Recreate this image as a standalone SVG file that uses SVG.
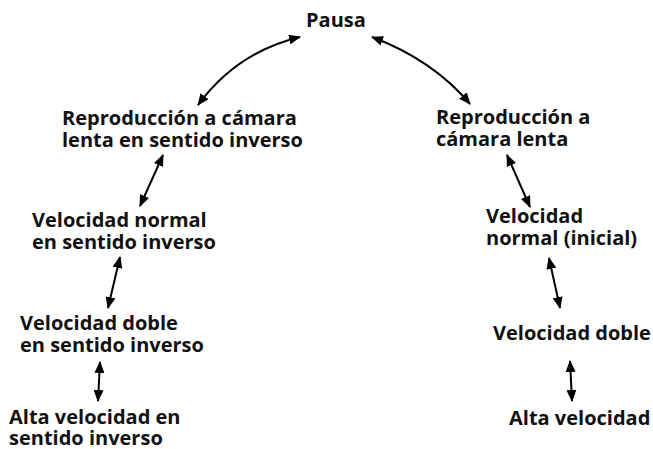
<svg xmlns="http://www.w3.org/2000/svg" width="653" height="449" viewBox="0 0 653 449">
<defs>
<marker id="ah" viewBox="0 0 12 10" refX="11" refY="5" markerWidth="12" markerHeight="10" markerUnits="userSpaceOnUse" orient="auto-start-reverse">
<path d="M0,0 L12,5 L0,10 Z" fill="#000"/>
</marker>
<style>
text{font-family:"Open Sans","Liberation Sans",sans-serif;font-weight:bold;font-size:20px;fill:#111;}
.c{fill:none;stroke:#000;stroke-width:2;marker-start:url(#ah);marker-end:url(#ah);}
</style>
</defs>
<rect width="653" height="449" fill="#fff"/>
<g id="pausa"><text x="306" y="27">Pausa</text></g>
<g id="rep-lenta-inv"><text x="62" y="125">Reproducción a cámara</text><text x="62" y="147">lenta en sentido inverso</text></g>
<g id="vel-normal-inv"><text x="32" y="227">Velocidad normal</text><text x="32" y="249">en sentido inverso</text></g>
<g id="vel-doble-inv"><text x="20" y="330">Velocidad doble</text><text x="20" y="352">en sentido inverso</text></g>
<g id="alta-inv"><text x="9" y="424">Alta velocidad en</text><text x="9" y="445">sentido inverso</text></g>
<g id="rep-lenta"><text x="436" y="124">Reproducción a</text><text x="436" y="146">cámara lenta</text></g>
<g id="vel-normal"><text x="486" y="223">Velocidad</text><text x="486" y="245">normal (inicial)</text></g>
<g id="vel-doble"><text x="493" y="340">Velocidad doble</text></g>
<g id="alta"><text x="509" y="425">Alta velocidad</text></g>
<g id="connectors">
<path class="c" d="M300,37 Q237,52 198,105"/>
<path class="c" d="M372,37 Q433,60 470,104"/>
<path class="c" d="M163,155 L140,206"/>
<path class="c" d="M120,257 L108,308"/>
<path class="c" d="M100,362 L98,401"/>
<path class="c" d="M507,155 L530,207"/>
<path class="c" d="M549,258 L560,308"/>
<path class="c" d="M570,361 L572,401"/>
</g>
</svg>
